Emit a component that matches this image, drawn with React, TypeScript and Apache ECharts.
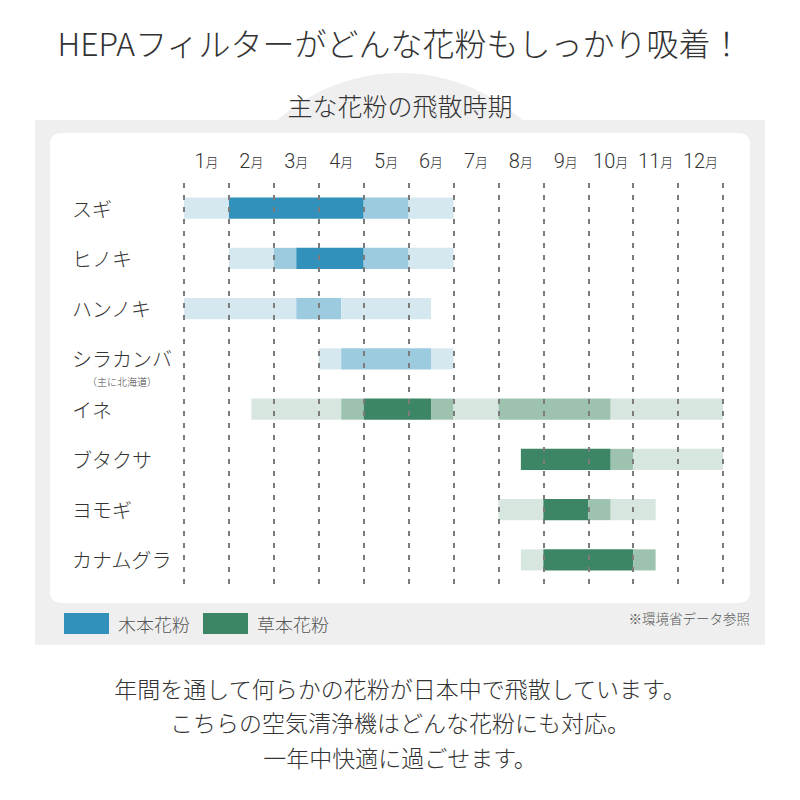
import React, { useEffect, useRef } from "react";
import * as echarts from "echarts";

// ---- data ----
const categories = ["スギ", "ヒノキ", "ハンノキ", "シラカンバ", "イネ", "ブタクサ", "ヨモギ", "カナムグラ"];
const months = ["1", "2", "3", "4", "5", "6", "7", "8", "9", "10", "11", "12"];
// segments: [start month offset, end month offset, level (1 light, 2 medium, 3 peak)]
const sugi = [[0, 1, 1], [1, 4, 3], [4, 5, 2], [5, 6, 1]];
const hinoki = [[1, 2, 1], [2, 2.5, 2], [2.5, 4, 3], [4, 5, 2], [5, 6, 1]];
const hannoki = [[0, 2.5, 1], [2.5, 3.5, 2], [3.5, 5.5, 1]];
const shirakanba = [[3, 3.5, 1], [3.5, 5.5, 2], [5.5, 6, 1]];
const ine = [[1.5, 3.5, 1], [3.5, 4, 2], [4, 5.5, 3], [5.5, 6, 2], [6, 7, 1], [7, 9.5, 2], [9.5, 12, 1]];
const butakusa = [[7.5, 9.5, 3], [9.5, 10, 2], [10, 12, 1]];
const yomogi = [[7, 8, 1], [8, 9, 3], [9, 9.5, 2], [9.5, 10.5, 1]];
const kanamugura = [[7.5, 8, 1], [8, 10, 3], [10, 10.5, 2]];
const treePlants = [sugi, hinoki, hannoki, shirakanba];
const herbPlants = [ine, butakusa, yomogi, kanamugura];
const seriesNames = ["木本花粉", "草本花粉"];

const BLUE = ["", "#d5e8f0", "#9ccbe0", "#3191ba"];
const GREEN = ["", "#d7e7df", "#9dc3b0", "#3c8666"];

const toData = (plants: number[][][], offset: number) => {
  const out: number[][] = [];
  plants.forEach((segs, i) => segs.forEach((s) => out.push([i + offset, s[0], s[1], s[2]])));
  return out;
};

const makeRender = (palette: string[]) => (params: any, api: any) => {
  const cat = api.value(0);
  const p1 = api.coord([api.value(1), cat]);
  const p2 = api.coord([api.value(2), cat]);
  const h = api.size([0, 1])[1] * 0.42;
  return {
    type: "rect",
    shape: { x: p1[0], y: p1[1] - h / 2, width: p2[0] - p1[0], height: h },
    style: { fill: palette[api.value(3)] },
  };
};

const FONT = "'Noto Sans CJK JP', 'Noto Sans', sans-serif";
const W = 300;

export default function App() {
  const ref = useRef<HTMLDivElement>(null);
  useEffect(() => {
    const chart = echarts.init(ref.current!, null, { renderer: "svg" });
    chart.setOption({
      animation: false,
      backgroundColor: "#ffffff",
      textStyle: { fontFamily: FONT },
      grid: { left: 184, right: 77, top: 183, height: 402 },
      xAxis: [
        {
          type: "value",
          min: 0,
          max: 12,
          interval: 1,
          z: 5,
          axisLabel: { show: false },
          axisLine: { show: false },
          axisTick: { show: false },
          splitLine: { show: true, lineStyle: { color: "#7c7c7c", width: 2, type: [5, 7] } },
        },
        {
          type: "category",
          position: "top",
          data: months,
          boundaryGap: true,
          axisLine: { show: false },
          axisTick: { show: false },
          splitLine: { show: false },
          axisLabel: {
            interval: 0,
            margin: 12,
            formatter: (v: string) => `{n|${v}}{m|月}`,
            rich: {
              n: { fontSize: 20, fontFamily: "Roboto", fontWeight: W, color: "#333" },
              m: { fontSize: 13, fontFamily: FONT, fontWeight: W, color: "#333" },
            },
          },
        },
      ],
      yAxis: {
        type: "category",
        data: categories,
        inverse: true,
        axisLine: { show: false },
        axisTick: { show: false },
        splitLine: { show: false },
        axisLabel: { align: "left", margin: 112, fontSize: 20, color: "#333", fontFamily: FONT, fontWeight: W },
      },
      legend: {
        left: 64,
        top: 613,
        padding: 0,
        icon: "rect",
        itemWidth: 45,
        itemHeight: 21,
        itemGap: 13,
        data: seriesNames,
        textStyle: { fontSize: 18, color: "#555", fontFamily: FONT, fontWeight: W, padding: [0, 0, 0, 4] },
      },
      graphic: [
        { type: "circle", z: -20, shape: { cx: 400, cy: 255, r: 182 }, style: { fill: "#efefef" }, silent: true },
        { type: "rect", z: -20, shape: { x: 35, y: 120, width: 730, height: 525 }, style: { fill: "#efefef" }, silent: true },
        { type: "rect", z: -19, shape: { x: 50, y: 133, width: 700, height: 470, r: 10 }, style: { fill: "#ffffff" }, silent: true },
        {
          type: "text", z: 10, x: 400, y: 42,
          style: { text: "HEPAフィルターがどんな花粉もしっかり吸着！", fontSize: 32, fontWeight: W, fill: "#333", fontFamily: FONT, textAlign: "center", textVerticalAlign: "middle" },
        },
        {
          type: "text", z: 10, x: 400, y: 105,
          style: { text: "主な花粉の飛散時期", fontSize: 25, fontWeight: W, fill: "#333", fontFamily: FONT, textAlign: "center", textVerticalAlign: "middle" },
        },
        {
          type: "text", z: 10, x: 122, y: 381,
          style: { text: "（主に北海道）", fontSize: 10, fontWeight: W, fill: "#444", fontFamily: FONT, textAlign: "center", textVerticalAlign: "middle" },
        },
        {
          type: "text", z: 10, x: 750, y: 618,
          style: { text: "※環境省データ参照", fontSize: 13.5, fontWeight: W, fill: "#555", fontFamily: FONT, textAlign: "right", textVerticalAlign: "middle" },
        },
        {
          type: "text", z: 10, x: 400, y: 688,
          style: { text: "年間を通して何らかの花粉が日本中で飛散しています。", fontSize: 23, fontWeight: W, fill: "#333", fontFamily: FONT, textAlign: "center", textVerticalAlign: "middle" },
        },
        {
          type: "text", z: 10, x: 400, y: 722,
          style: { text: "こちらの空気清浄機はどんな花粉にも対応。", fontSize: 23, fontWeight: W, fill: "#333", fontFamily: FONT, textAlign: "center", textVerticalAlign: "middle" },
        },
        {
          type: "text", z: 10, x: 400, y: 757,
          style: { text: "一年中快適に過ごせます。", fontSize: 23, fontWeight: W, fill: "#333", fontFamily: FONT, textAlign: "center", textVerticalAlign: "middle" },
        },
      ],
      series: [
        {
          type: "custom",
          name: seriesNames[0],
          xAxisIndex: 0,
          yAxisIndex: 0,
          z: 2,
          itemStyle: { color: BLUE[3] },
          renderItem: makeRender(BLUE),
          encode: { x: [1, 2], y: 0 },
          data: toData(treePlants, 0),
        },
        {
          type: "custom",
          name: seriesNames[1],
          xAxisIndex: 0,
          yAxisIndex: 0,
          z: 2,
          itemStyle: { color: GREEN[3] },
          renderItem: makeRender(GREEN),
          encode: { x: [1, 2], y: 0 },
          data: toData(herbPlants, 4),
        },
      ],
    });
    return () => chart.dispose();
  }, []);
  return <div ref={ref} style={{ position: "fixed", left: 0, top: 0, width: 800, height: 800 }} />;
}
